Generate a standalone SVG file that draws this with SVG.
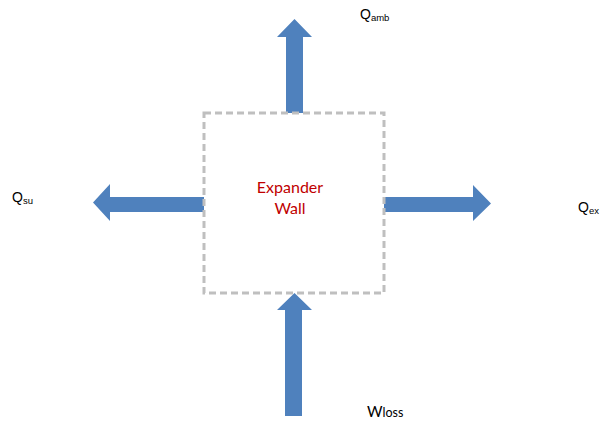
<svg xmlns="http://www.w3.org/2000/svg" width="601" height="421" viewBox="0 0 601 421">
<style>
.arrow{fill:#4f81bd}
.lbl{font-family:"Liberation Sans",Arial,sans-serif;font-size:14px;fill:#000}
.sub{font-size:9.5px}
.wl{font-family:Lato,"Open Sans",sans-serif;font-size:15px;fill:#000}
.center{font-family:Lato,"Open Sans",sans-serif;font-size:16px;fill:#c00000;text-anchor:middle}
</style>
<rect width="601" height="421" fill="#fff"/>
<g id="connectors">
  <polygon id="arrow-amb" class="arrow" points="286,113 286,37 277,37 294.5,19 312,37 303,37 303,113"/>
  <polygon id="arrow-su" class="arrow" points="204,197 110,197 110,184 93,202.5 110,221 110,212 204,212"/>
  <polygon id="arrow-ex" class="arrow" points="384,197 473,197 473,185 491,203.5 473,221 473,212 384,212"/>
  <polygon id="arrow-loss" class="arrow" points="285,416 285,310 277,310 294.5,293 312,310 302,310 302,416"/>
</g>
<g id="expander-wall">
  <rect x="204" y="113" width="180" height="180" fill="none" stroke="#bfbfbf" stroke-width="3" stroke-dasharray="7,4"/>
  <text class="center" x="290" y="193">Expander</text>
  <text class="center" x="290" y="214">Wall</text>
</g>
<g id="label-amb"><text class="lbl" x="360" y="19">Q<tspan class="sub" dy="2">amb</tspan></text></g>
<g id="label-su"><text class="lbl" x="12" y="202">Q<tspan class="sub" dy="2">su</tspan></text></g>
<g id="label-ex"><text class="lbl" x="578" y="212">Q<tspan class="sub" dy="2">ex</tspan></text></g>
<g id="label-loss"><text class="wl" x="367" y="417">W<tspan font-size="12.5">loss</tspan></text></g>
</svg>
